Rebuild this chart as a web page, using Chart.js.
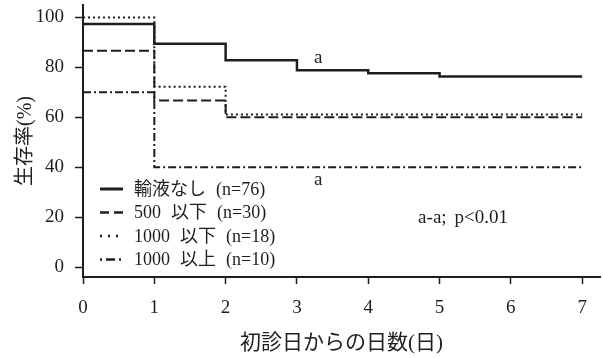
<!DOCTYPE html>
<html>
<head>
<meta charset="utf-8">
<script src="https://cdn.jsdelivr.net/npm/chart.js@4/dist/chart.umd.min.js"></script>
<style>
  html, body { margin: 0; padding: 0; background: #fff; }
  #wrap { width: 603px; height: 358px; }
</style>
</head>
<body>
<div id="wrap"><canvas id="survivalChart" width="603" height="358"></canvas></div>
<script>
// days since first visit
const days = [0, 1, 2, 3, 4, 5, 6, 7];

// survival rate (%) per day, one array per group
const noFluid = [97.4, 89.5, 82.9, 78.9, 77.6, 76.3, 76.3, 76.3];
const under500 = [86.7, 66.7, 60.0, 60.0, 60.0, 60.0, 60.0, 60.0];
const under1000 = [100, 72.2, 61.1, 61.1, 61.1, 61.1, 61.1, 61.1];
const over1000 = [70, 40, 40, 40, 40, 40, 40, 40];

const seriesLabels = ['輸液なし (n=76)', '500 以下 (n=30)', '1000 以下 (n=18)', '1000 以上 (n=10)'];

const xTicks = [0, 1, 2, 3, 4, 5, 6, 7];
const yTicks = [0, 20, 40, 60, 80, 100];

// significance marks: [day, value, text]
const notes = [
    [3.3, 83.8, 'a'],
    [3.3, 34.9, 'a'],
    [5.33, 19.6, 'a-a; p<0.01']
];

const ink = '#1e1e1e';
const serif = '"Liberation Serif", "Noto Sans CJK JP", serif';

const lineStyles = [
    { width: 2.5, dash: [] },
    { width: 2, dash: [10, 4] },
    { width: 2, dash: [2, 3] },
    { width: 2, dash: [8, 3, 2, 3] }
];
const legendDash = [[], [9, 5], [2, 6], [2, 4, 9, 4]];

function toPoints(values) {
    return days.map((d, i) => ({ x: d, y: values[i] }));
}

const allSeries = [noFluid, under500, under1000, over1000];

// draw text with wider gaps between words (the original uses wide spaces)
function spacedText(ctx, text, x, y, gap) {
    const words = text.split(' ');
    const total = words.reduce((w, s) => w + ctx.measureText(s).width, 0) + gap * (words.length - 1);
    let cx = ctx.textAlign === 'center' ? x - total / 2 : x;
    const align = ctx.textAlign;
    ctx.textAlign = 'left';
    words.forEach(wd => {
        ctx.fillText(wd, cx, y);
        cx += ctx.measureText(wd).width + gap;
    });
    ctx.textAlign = align;
}

// legend + letters drawn inside the plot
const overlay = {
    id: 'overlay',
    afterDraw(chart) {
        const ctx = chart.ctx;
        const xs = chart.scales.x, ys = chart.scales.y;
        ctx.save();
        ctx.fillStyle = ink;
        ctx.strokeStyle = ink;
        ctx.font = '19px ' + serif;
        ctx.textBaseline = 'middle';
        ctx.textAlign = 'center';
        notes.forEach(n => {
            spacedText(ctx, n[2], xs.getPixelForValue(n[0]), ys.getPixelForValue(n[1]), 8);
        });

        // legend box
        ctx.font = '18px ' + serif;
        const left = chart.chartArea.left + 17;
        let y = 189;
        ctx.textAlign = 'left';
        seriesLabels.forEach((label, i) => {
            ctx.beginPath();
            ctx.lineWidth = i === 0 ? 3 : 2.5;
            ctx.setLineDash(legendDash[i]);
            ctx.moveTo(left, y);
            ctx.lineTo(left + 23, y);
            ctx.stroke();
            ctx.setLineDash([]);
            spacedText(ctx, label, left + 34, y + 1, 10);
            y += 23.5;
        });
        ctx.restore();
    }
};

const ctx = document.getElementById('survivalChart').getContext('2d');
const survivalChart = new Chart(ctx, {
    type: 'line',
    data: {
        datasets: allSeries.map((vals, i) => ({
            label: seriesLabels[i],
            data: toPoints(vals),
            borderColor: ink,
            borderWidth: lineStyles[i].width,
            borderDash: lineStyles[i].dash,
            stepped: 'before',
            pointRadius: 0,
            fill: false
        }))
    },
    options: {
        responsive: false,
        animation: false,
        devicePixelRatio: 1,
        layout: { padding: { top: 5, right: 3, left: 0, bottom: 0 } },
        plugins: {
            legend: { display: false },
            tooltip: { enabled: false }
        },
        scales: {
            x: {
                type: 'linear',
                min: 0,
                max: 7.25,
                afterBuildTicks: s => { s.ticks = xTicks.map(v => ({ value: v })); },
                afterFit: s => { s.height = 81; s.paddingLeft = 0; s.paddingRight = 0; },
                border: { display: true, color: ink, width: 2 },
                grid: { drawOnChartArea: false, drawTicks: true, tickLength: 7, tickColor: ink, tickWidth: 1.5 },
                ticks: { color: ink, font: { size: 19, family: serif }, padding: 13, maxRotation: 0 },
                title: {
                    display: true,
                    text: '初診日からの日数(日)',
                    color: ink,
                    font: { size: 21, family: serif },
                    padding: { top: 0, bottom: 2 }
                }
            },
            y: {
                type: 'linear',
                min: -4,
                max: 105,
                afterBuildTicks: s => { s.ticks = yTicks.map(v => ({ value: v })); },
                afterFit: s => { s.width = 83; s.paddingTop = 0; s.paddingBottom = 0; },
                border: { display: true, color: ink, width: 2 },
                grid: { drawOnChartArea: false, drawTicks: true, tickLength: 8, tickColor: ink, tickWidth: 1.5 },
                ticks: { color: ink, font: { size: 19, family: serif }, padding: 11 },
                title: {
                    display: true,
                    text: '生存率(%)',
                    color: ink,
                    font: { size: 20, family: serif },
                    padding: { top: 14, bottom: 0 }
                }
            }
        }
    },
    plugins: [overlay]
});
</script>
</body>
</html>
